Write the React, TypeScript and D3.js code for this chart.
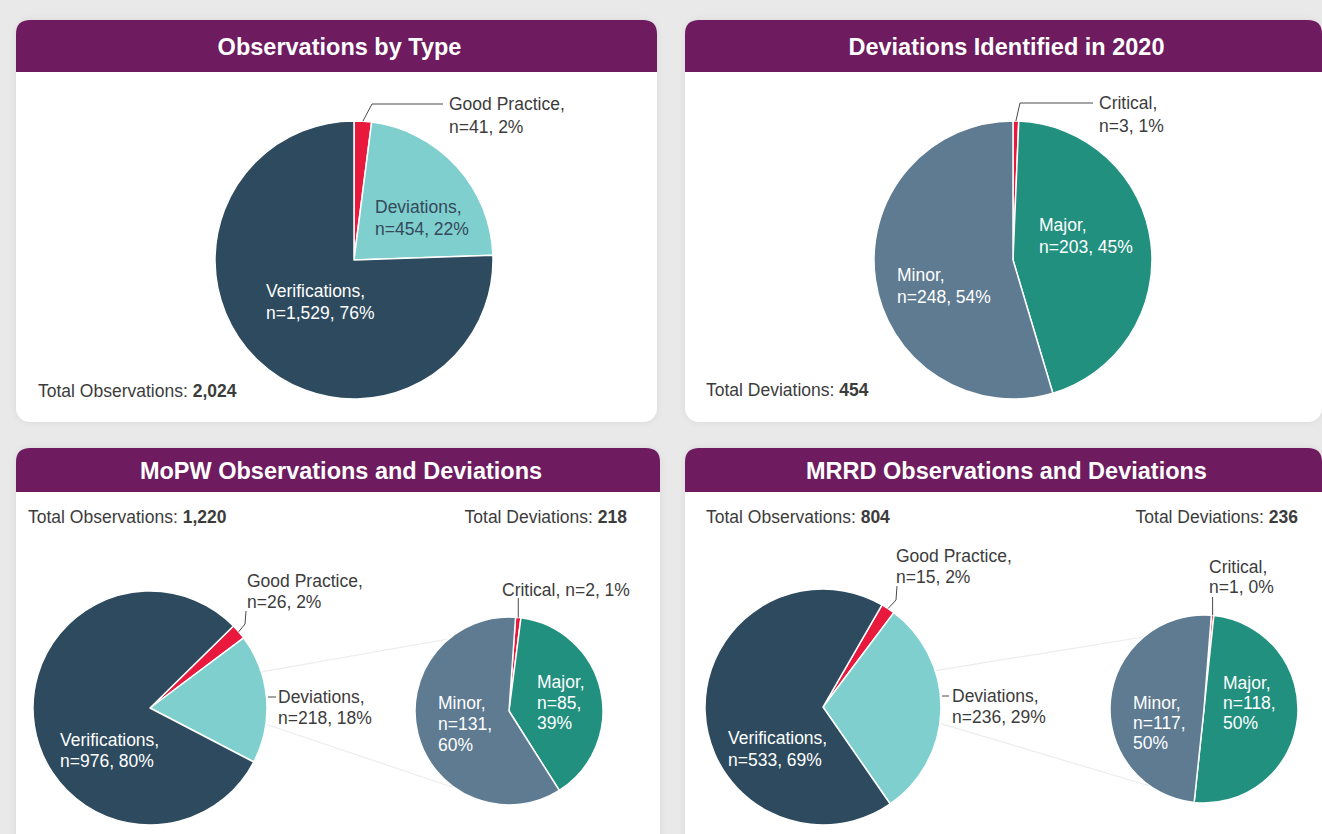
import React from "react";
import * as d3 from "d3";

// ---------- data ----------
const obsCategories = ["Good Practice", "Deviations", "Verifications"];
const devCategories = ["Critical", "Major", "Minor"];

const overallObsCounts = [41, 454, 1529];
const overallObsPct = [2, 22, 76];
const overallDevCounts = [3, 203, 248];
const overallDevPct = [1, 45, 54];

const mopwObsCounts = [26, 218, 976];
const mopwObsPct = [2, 18, 80];
const mopwDevCounts = [2, 85, 131];
const mopwDevPct = [1, 39, 60];

const mrrdObsCounts = [15, 236, 533];
const mrrdObsPct = [2, 29, 69];
const mrrdDevCounts = [1, 118, 117];
const mrrdDevPct = [0, 50, 50];

const panelTitles = [
  "Observations by Type",
  "Deviations Identified in 2020",
  "MoPW Observations and Deviations",
  "MRRD Observations and Deviations",
];
const totalObservations = [2024, 1220, 804];
const totalDeviations = [454, 218, 236];

// ---------- style ----------
const obsColors = ["#e8193c", "#7fcfcf", "#2d4a5e"];
const devColors = ["#e8193c", "#21907f", "#5e7b92"];
const PURPLE = "#6e1b60";
const TEXT = "#3c3c3c";
const FONT = "'Liberation Sans', Arial, sans-serif";
const FS = 17.5;
const fmt = d3.format(",");
const rad = (deg: number) => (deg * Math.PI) / 180;

type Lbl = { lines: string[]; x: number; y: number; fill: string; lh?: number };

function pt(cx: number, cy: number, r: number, a: number): [number, number] {
  return [cx + r * Math.sin(a), cy - r * Math.cos(a)];
}

function arcsOf(counts: number[], startDeg: number) {
  return d3
    .pie<number>()
    .sort(null)
    .value((d) => d)
    .startAngle(rad(startDeg))
    .endAngle(rad(startDeg) + Math.PI * 2)(counts);
}

function Pie({ cx, cy, r, counts, colors, startDeg }: any) {
  const arc = d3.arc<d3.PieArcDatum<number>>().innerRadius(0).outerRadius(r);
  const arcs = arcsOf(counts, startDeg);
  return (
    <g transform={`translate(${cx},${cy})`}>
      {arcs.map((a, i) => (
        <path key={i} d={arc(a) || ""} fill={colors[i]} stroke="#fff" strokeWidth={1.5} strokeLinejoin="round" />
      ))}
    </g>
  );
}

function Labels({ items }: { items: Lbl[] }) {
  return (
    <g fontFamily={FONT} fontSize={FS}>
      {items.map((l, i) => (
        <text key={i} x={l.x} y={l.y} fill={l.fill} dominantBaseline="central">
          {l.lines.map((s, j) => (
            <tspan key={j} x={l.x} y={l.y + j * (l.lh ?? 22)}>
              {s}
            </tspan>
          ))}
        </text>
      ))}
    </g>
  );
}

function Panel({ x, y, w, h, hh, title }: any) {
  const r = 14;
  const headerPath = `M${x},${y + hh} L${x},${y + r} Q${x},${y} ${x + r},${y} L${x + w - r},${y} Q${x + w},${y} ${x + w},${y + r} L${x + w},${y + hh} Z`;
  return (
    <g>
      <rect x={x} y={y} width={w} height={h} rx={r} fill="#fff" filter="url(#sh)" />
      <path d={headerPath} fill={PURPLE} />
      <text
        x={x + w / 2 + 3}
        y={y + hh / 2 + 1}
        textAnchor="middle"
        dominantBaseline="central"
        fill="#fff"
        fontFamily={FONT}
        fontWeight="bold"
        fontSize={23.5}
      >
        {title}
      </text>
    </g>
  );
}

function TotalText({ x, y, label, value, anchor = "start" }: any) {
  return (
    <text x={x} y={y} fontFamily={FONT} fontSize={FS} fill={TEXT} textAnchor={anchor} dominantBaseline="central">
      {label}
      <tspan fontWeight="bold">{fmt(value)}</tspan>
    </text>
  );
}

const two = (cat: string, n: number, p: number) => [`${cat},`, `n=${fmt(n)}, ${p}%`];
const three = (cat: string, n: number, p: number) => [`${cat},`, `n=${fmt(n)},`, `${p}%`];

function Leader({ pts }: { pts: [number, number][] }) {
  return <polyline points={pts.map((p) => p.join(",")).join(" ")} fill="none" stroke="#4a4a4a" strokeWidth={1} />;
}

export default function App() {
  // ----- Panel 1 -----
  const p1 = { cx: 354, cy: 260, r: 139, start: 0 };
  const a1 = arcsOf(overallObsCounts, p1.start);
  const gp1 = pt(p1.cx, p1.cy, p1.r, (a1[0].startAngle + a1[0].endAngle) / 2);

  // ----- Panel 2 -----
  const p2 = { cx: 1013, cy: 260, r: 139, start: 0 };
  const a2 = arcsOf(overallDevCounts, p2.start);
  const cr2 = pt(p2.cx, p2.cy, p2.r, (a2[0].startAngle + a2[0].endAngle) / 2);

  // ----- Panel 3 -----
  const m3 = { cx: 150, cy: 708, r: 117, start: 45.5 };
  const s3 = { cx: 509, cy: 711, r: 94, start: 4 };
  const am3 = arcsOf(mopwObsCounts, m3.start);
  const as3 = arcsOf(mopwDevCounts, s3.start);
  const gp3 = pt(m3.cx, m3.cy, m3.r, (am3[0].startAngle + am3[0].endAngle) / 2);
  const cr3 = pt(s3.cx, s3.cy, s3.r, (as3[0].startAngle + as3[0].endAngle) / 2);

  // ----- Panel 4 -----
  const m4 = { cx: 823, cy: 707, r: 118, start: 30 };
  const s4 = { cx: 1204, cy: 709, r: 94, start: 4.5 };
  const am4 = arcsOf(mrrdObsCounts, m4.start);
  const as4 = arcsOf(mrrdDevCounts, s4.start);
  const gp4 = pt(m4.cx, m4.cy, m4.r, (am4[0].startAngle + am4[0].endAngle) / 2);
  const cr4 = pt(s4.cx, s4.cy, s4.r, (as4[0].startAngle + as4[0].endAngle) / 2);

  const connectors = (m: any, s: any) => {
    const u1 = pt(m.cx, m.cy, m.r, rad(72));
    const u2 = pt(s.cx, s.cy, s.r, rad(320));
    const l1 = pt(m.cx, m.cy, m.r, rad(98));
    const l2 = pt(s.cx, s.cy, s.r, rad(215));
    return (
      <g stroke="#ececec" strokeWidth={1.2}>
        <line x1={u1[0]} y1={u1[1]} x2={u2[0]} y2={u2[1]} />
        <line x1={l1[0]} y1={l1[1]} x2={l2[0]} y2={l2[1]} />
      </g>
    );
  };

  return (
    <svg width={1322} height={834} style={{ position: "fixed", left: 0, top: 0, background: "#e9e9e9" }}>
      <defs>
        <filter id="sh" x="-5%" y="-5%" width="110%" height="110%">
          <feDropShadow dx="0" dy="0" stdDeviation="3" floodColor="#000" floodOpacity="0.08" />
        </filter>
      </defs>
      <rect width={1322} height={834} fill="#e9e9e9" />

      <Panel x={16} y={20} w={641} h={402} hh={52} title={panelTitles[0]} />
      <Panel x={685} y={20} w={637} h={402} hh={52} title={panelTitles[1]} />
      <Panel x={16} y={448} w={644} h={420} hh={44} title={panelTitles[2]} />
      <Panel x={685} y={448} w={637} h={420} hh={44} title={panelTitles[3]} />

      {/* Panel 1 */}
      <Pie cx={p1.cx} cy={p1.cy} r={p1.r} counts={overallObsCounts} colors={obsColors} startDeg={p1.start} />
      <Leader pts={[gp1, [372, 104], [443, 104]]} />
      <Labels
        items={[
          { lines: two(obsCategories[0], overallObsCounts[0], overallObsPct[0]), x: 449, y: 104, fill: TEXT, lh: 23 },
          { lines: two(obsCategories[1], overallObsCounts[1], overallObsPct[1]), x: 375, y: 207, fill: "#34495a" },
          { lines: two(obsCategories[2], overallObsCounts[2], overallObsPct[2]), x: 266, y: 291, fill: "#fff" },
        ]}
      />
      <TotalText x={38} y={391} label="Total Observations: " value={totalObservations[0]} />

      {/* Panel 2 */}
      <Pie cx={p2.cx} cy={p2.cy} r={p2.r} counts={overallDevCounts} colors={devColors} startDeg={p2.start} />
      <Leader pts={[cr2, [1020, 103], [1093, 103]]} />
      <Labels
        items={[
          { lines: two(devCategories[0], overallDevCounts[0], overallDevPct[0]), x: 1099, y: 103, fill: TEXT, lh: 23 },
          { lines: two(devCategories[1], overallDevCounts[1], overallDevPct[1]), x: 1039, y: 225, fill: "#fff" },
          { lines: two(devCategories[2], overallDevCounts[2], overallDevPct[2]), x: 897, y: 275, fill: "#fff" },
        ]}
      />
      <TotalText x={706} y={390} label="Total Deviations: " value={totalDeviations[0]} />

      {/* Panel 3 */}
      {connectors(m3, s3)}
      <Pie cx={m3.cx} cy={m3.cy} r={m3.r} counts={mopwObsCounts} colors={obsColors} startDeg={m3.start} />
      <Pie cx={s3.cx} cy={s3.cy} r={s3.r} counts={mopwDevCounts} colors={devColors} startDeg={s3.start} />
      <Leader pts={[gp3, [245, 624], [246, 611]]} />
      <Leader pts={[[268, 697], [276, 697]]} />
      <Leader pts={[cr3, [cr3[0], 598]]} />
      <Labels
        items={[
          { lines: two(obsCategories[0], mopwObsCounts[0], mopwObsPct[0]), x: 247, y: 581, fill: TEXT, lh: 21 },
          { lines: two(obsCategories[1], mopwObsCounts[1], mopwObsPct[1]), x: 278, y: 697, fill: TEXT, lh: 21 },
          { lines: two(obsCategories[2], mopwObsCounts[2], mopwObsPct[2]), x: 60, y: 740, fill: "#fff", lh: 21 },
          { lines: [`${devCategories[0]}, n=${mopwDevCounts[0]}, ${mopwDevPct[0]}%`], x: 502, y: 590, fill: TEXT },
          { lines: three(devCategories[1], mopwDevCounts[1], mopwDevPct[1]), x: 537, y: 682, fill: "#fff", lh: 20.5 },
          { lines: three(devCategories[2], mopwDevCounts[2], mopwDevPct[2]), x: 438, y: 703, fill: "#fff", lh: 21 },
        ]}
      />
      <TotalText x={28} y={517} label="Total Observations: " value={totalObservations[1]} />
      <TotalText x={627} y={517} label="Total Deviations: " value={totalDeviations[1]} anchor="end" />

      {/* Panel 4 */}
      {connectors(m4, s4)}
      <Pie cx={m4.cx} cy={m4.cy} r={m4.r} counts={mrrdObsCounts} colors={obsColors} startDeg={m4.start} />
      <Pie cx={s4.cx} cy={s4.cy} r={s4.r} counts={mrrdDevCounts} colors={devColors} startDeg={s4.start} />
      <Leader pts={[gp4, [896, 600], [897, 586]]} />
      <Leader pts={[[942, 696], [949, 696]]} />
      <Leader pts={[cr4, [cr4[0], 597]]} />
      <Labels
        items={[
          { lines: two(obsCategories[0], mrrdObsCounts[0], mrrdObsPct[0]), x: 896, y: 556, fill: TEXT, lh: 21 },
          { lines: two(obsCategories[1], mrrdObsCounts[1], mrrdObsPct[1]), x: 952, y: 696, fill: TEXT, lh: 21 },
          { lines: two(obsCategories[2], mrrdObsCounts[2], mrrdObsPct[2]), x: 728, y: 738, fill: "#fff", lh: 22 },
          { lines: two(devCategories[0], mrrdDevCounts[0], mrrdDevPct[0]), x: 1209, y: 567, fill: TEXT, lh: 20 },
          { lines: three(devCategories[1], mrrdDevCounts[1], mrrdDevPct[1]), x: 1223, y: 683, fill: "#fff", lh: 20 },
          { lines: three(devCategories[2], mrrdDevCounts[2], mrrdDevPct[2]), x: 1133, y: 703, fill: "#fff", lh: 20 },
        ]}
      />
      <TotalText x={706} y={517} label="Total Observations: " value={totalObservations[2]} />
      <TotalText x={1298} y={517} label="Total Deviations: " value={totalDeviations[2]} anchor="end" />
    </svg>
  );
}
